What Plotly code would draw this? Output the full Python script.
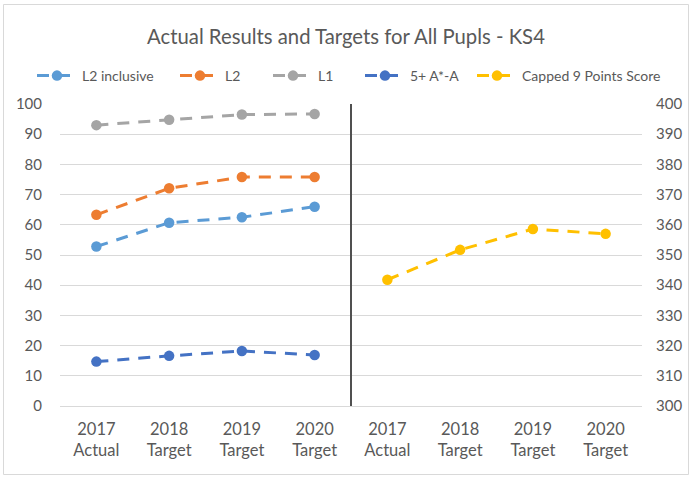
import plotly.graph_objects as go

tick_labels = ["2017<br>Actual", "2018<br>Target", "2019<br>Target", "2020<br>Target",
               "2017<br>Actual", "2018<br>Target", "2019<br>Target", "2020<br>Target"]
left_x = [0, 1, 2, 3]
right_x = [4, 5, 6, 7]

l2_inclusive = [52.8, 60.7, 62.5, 66.0]
l2 = [63.3, 72.1, 75.8, 75.8]
l1 = [93.0, 94.8, 96.5, 96.7]
a_star_a = [14.7, 16.6, 18.2, 16.9]
capped_9 = [341.8, 351.7, 358.6, 357.0]

series = [
    ("L2 inclusive", l2_inclusive, left_x, "#5B9BD5", "y"),
    ("L2", l2, left_x, "#ED7D31", "y"),
    ("L1", l1, left_x, "#A5A5A5", "y"),
    ("5+ A*-A", a_star_a, left_x, "#4472C4", "y"),
    ("Capped 9 Points Score", capped_9, right_x, "#FFC000", "y2"),
]
legend_starts = [33, 176, 269, 361, 473]

FONT = "Lato"
TXT = "#595959"
GRID = "#D9D9D9"

W, H = 692, 477
L, R, T, B = 60, 50, 104, 71
pw = W - L - R
ph = H - T - B

def px_x(px):
    return (px - L) / pw

def px_y(py):
    return (H - B - py) / ph

fig = go.Figure()
legend_layouts = {}
for i, (name, vals, xs, color, yax) in enumerate(series):
    lg = "legend" if i == 0 else "legend%d" % (i + 1)
    fig.add_trace(go.Scatter(
        x=xs, y=vals, name=name, yaxis=yax, mode="lines+markers",
        line=dict(color=color, width=3, dash="12px,9px"),
        marker=dict(color=color, size=10.5, symbol="circle"),
        legend=lg,
    ))
    legend_layouts[lg] = dict(
        orientation="h", x=px_x(legend_starts[i] - 1), xanchor="left",
        y=px_y(76), yanchor="middle", itemwidth=40,
        font=dict(family=FONT, size=14, color=TXT),
        bgcolor="rgba(0,0,0,0)",
    )

fig.update_layout(
    width=W, height=H,
    margin=dict(l=L, r=R, t=T, b=B, autoexpand=False),
    paper_bgcolor="white", plot_bgcolor="white",
    font=dict(family=FONT, color=TXT),
    title=dict(text="Actual Results and Targets for All Pupls - KS4",
               x=0.5, xanchor="center", y=1 - 37 / H, yanchor="middle",
               font=dict(family=FONT, size=20.3, color=TXT)),
    showlegend=True,
    xaxis=dict(range=[-0.5, 7.5], tickvals=list(range(8)), ticktext=tick_labels,
               showgrid=False, zeroline=False, showline=True, linecolor=GRID,
               linewidth=1, ticks="outside", ticklen=8, tickcolor="rgba(0,0,0,0)",
               tickfont=dict(family=FONT, size=16.5, color=TXT), fixedrange=True),
    yaxis=dict(range=[0, 100], dtick=10, tick0=0, showgrid=True, gridcolor=GRID,
               gridwidth=1, zeroline=False, showline=False,
               ticks="outside", ticklen=14, tickcolor="rgba(0,0,0,0)",
               tickfont=dict(family=FONT, size=15, color=TXT)),
    yaxis2=dict(range=[300, 400], dtick=10, tick0=300, overlaying="y", side="right",
                showgrid=False, zeroline=False, showline=False,
                ticks="outside", ticklen=10, tickcolor="rgba(0,0,0,0)",
                tickfont=dict(family=FONT, size=15, color=TXT)),
    shapes=[
        dict(type="line", xref="x", yref="paper", x0=3.5, x1=3.5, y0=0, y1=1,
             line=dict(color="#505050", width=2)),
        dict(type="rect", xref="paper", yref="paper",
             x0=px_x(3.5), x1=px_x(688.5), y0=px_y(474.5), y1=px_y(4.5),
             line=dict(color=GRID, width=1), fillcolor="rgba(0,0,0,0)", layer="below"),
    ],
    **legend_layouts,
)

fig.write_html("out.html", config={"displayModeBar": False},
               post_script="document.body.style.margin='0';")
